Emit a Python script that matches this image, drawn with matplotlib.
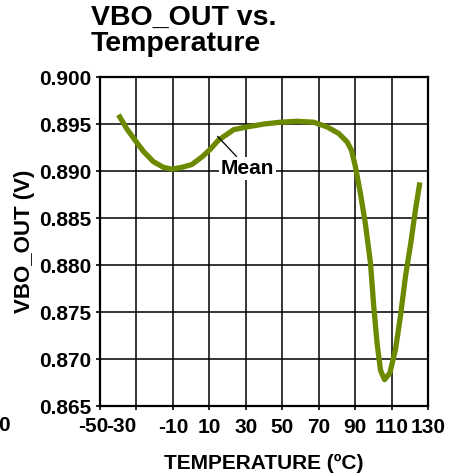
import numpy as np
import matplotlib.pyplot as plt

plt.rcParams['font.family'] = ['Liberation Sans', 'DejaVu Sans']
plt.rcParams['axes.unicode_minus'] = False

# mean curve
temp = [-39.9, -35.3, -30.8, -26.2, -20.7, -15.2, -10.6, -5.1, 0.4, 5.9, 10.4,
        15.0, 19.6, 23.2, 30.6, 39.7, 48.9, 58.1, 67.2, 74.6, 81.0, 85.6, 88.0,
        90.1, 92.9, 95.6, 98.4, 100.2, 102.0, 103.9, 106.1, 109.0, 112.1,
        114.8, 117.6, 120.4, 123.1, 125.5]
vbo = [0.8960, 0.8945, 0.8933, 0.8921, 0.8910, 0.8904, 0.8902, 0.8904, 0.8907,
       0.8915, 0.8923, 0.8933, 0.8939, 0.8944, 0.8947, 0.8950, 0.8952, 0.8953,
       0.8952, 0.8947, 0.8940, 0.8931, 0.8922, 0.8905, 0.8876, 0.8844, 0.8802,
       0.8756, 0.8717, 0.8688, 0.8678, 0.8685, 0.8710, 0.8745, 0.8788, 0.8822,
       0.8859, 0.8888]

xticks = [-50, -30, -10, 10, 30, 50, 70, 90, 110, 130]
yticks = [0.865, 0.870, 0.875, 0.880, 0.885, 0.890, 0.895, 0.900]

fig = plt.figure(figsize=(4.68, 4.76), dpi=100)
ax = fig.add_axes([0.2137, 0.147, 0.701, 0.691])

ax.plot(temp, vbo, color='#6b8a00', lw=3.8, solid_capstyle='butt',
        solid_joinstyle='round', zorder=3)

ax.set_xlim(-50, 130)
ax.set_ylim(0.865, 0.900)
ax.set_xticks(xticks)
ax.set_yticks(yticks)
# the first two labels are squeezed together in the original, drawn below
ax.set_xticklabels(['', ''] + [str(t) for t in xticks[2:]])
ax.set_yticklabels(['%.3f' % t for t in yticks])
ax.grid(True, color='black', lw=1.1)
ax.tick_params(length=3, width=1.2, labelsize=15)
ax.tick_params(axis='x', pad=5.5)
ax.tick_params(axis='y', pad=3)
for lab in ax.get_xticklabels() + ax.get_yticklabels():
    lab.set_fontweight('bold')
for t, dx in zip(xticks[:2], [-7, -15]):
    ax.annotate(str(t), xy=(t, 0), xycoords=('data', 'axes fraction'),
                xytext=(dx, -11), textcoords='offset pixels', ha='center',
                va='top', fontsize=15, fontweight='bold')
for s in ax.spines.values():
    s.set_linewidth(1.6)

ax.annotate('Mean', xy=(14.5, 0.8937), xytext=(16.3, 0.8903),
            fontsize=15, fontweight='bold', ha='left', va='center',
            bbox=dict(facecolor='white', edgecolor='none', pad=1.5),
            arrowprops=dict(arrowstyle='-', color='black', lw=0.9,
                            shrinkA=0, shrinkB=0), zorder=4)

ax.set_xlabel('TEMPERATURE (ºC)', fontsize=15, fontweight='bold', labelpad=12)
ax.set_ylabel('VBO_OUT (V)', fontsize=16, fontweight='bold', labelpad=3)

fig.text(0.194, 0.99, 'VBO_OUT vs.\nTemperature', fontsize=20.5, fontweight='bold',
         ha='left', va='top', linespacing=1.0)
fig.text(-0.004, 0.107, '0', fontsize=15, fontweight='bold', ha='left', va='center')

fig.savefig('out.png', dpi=100)
